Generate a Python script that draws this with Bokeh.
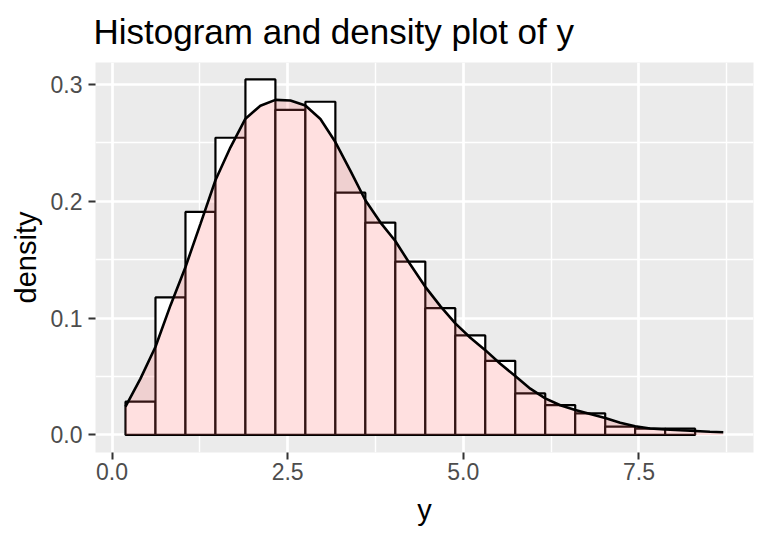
import numpy as np
from bokeh.plotting import figure
from bokeh.models import Range1d, FixedTicker, PrintfTickFormatter
from bokeh.embed import file_html
from bokeh.resources import INLINE

# ---- data ----
bin_start = 0.192
bin_width = 0.4267
hist_density = [0.0285, 0.1177, 0.1909, 0.2544, 0.3043, 0.2783, 0.2852, 0.2074,
                0.1818, 0.1484, 0.1085, 0.0852, 0.0635, 0.0356, 0.0256, 0.0185,
                0.0071, 0.0054, 0.0054]

dens_x = [0.192, 0.405, 0.619, 0.832, 1.046, 1.259, 1.472, 1.686, 1.899, 2.112,
          2.326, 2.539, 2.752, 2.966, 3.179, 3.392, 3.606, 3.819, 4.032, 4.246,
          4.459, 4.673, 4.886, 5.100, 5.313, 5.526, 5.739, 5.953, 6.166, 6.380,
          6.593, 6.806, 7.019, 7.233, 7.446, 7.659, 7.873, 8.086, 8.300, 8.510,
          8.700]
dens_y = [0.0242, 0.0482, 0.0755, 0.1109, 0.1438, 0.1807, 0.2180, 0.2462, 0.2707, 0.2818,
          0.2868, 0.2863, 0.2820, 0.2704, 0.2507, 0.2262, 0.2009, 0.1820, 0.1660, 0.1459,
          0.1268, 0.1103, 0.0955, 0.0832, 0.0726, 0.0610, 0.0504, 0.0396, 0.0313, 0.0254,
          0.0214, 0.0180, 0.0145, 0.0105, 0.0074, 0.0056, 0.0047, 0.0040, 0.0034, 0.0028,
          0.0023]

x_ticks = [0, 2.5, 5, 7.5]
x_minor = [1.25, 3.75, 6.25, 8.75]
y_ticks = [0, 0.1, 0.2, 0.3]
y_minor = [0.05, 0.15, 0.25]

title_text = "Histogram and density plot of y"
x_label = "y"
y_label = "density"

FONT = "Liberation Sans"

edges = bin_start + bin_width * np.arange(len(hist_density) + 1)

p = figure(width=760, height=532, output_backend="svg", toolbar_location=None,
           x_range=Range1d(-0.235, 9.13), y_range=Range1d(-0.0150, 0.3188),
           min_border_left=95, min_border_right=7, min_border_top=65, min_border_bottom=77,
           margin=(-3, 0, 0, 0))
p.outline_line_color = None
p.background_fill_color = "#EBEBEB"
p.border_fill_color = "white"

p.title.text = title_text
p.title.text_font = FONT
p.title.text_font_size = "35px"
p.title.text_font_style = "normal"
p.title.text_color = "black"
p.title.align = "left"
p.title.offset = -2
p.title.standoff = 24

p.xaxis.ticker = FixedTicker(ticks=x_ticks, minor_ticks=x_minor)
p.yaxis.ticker = FixedTicker(ticks=y_ticks, minor_ticks=y_minor)
p.xaxis.formatter = PrintfTickFormatter(format="%.1f")
p.yaxis.formatter = PrintfTickFormatter(format="%.1f")
p.xaxis.axis_label = x_label
p.yaxis.axis_label = y_label

for ax in (p.xaxis[0], p.yaxis[0]):
    ax.axis_line_color = None
    ax.major_tick_line_color = "#333333"
    ax.major_tick_line_width = 2
    ax.major_tick_out = 7
    ax.major_tick_in = 0
    ax.minor_tick_line_color = None
    ax.major_label_text_font = FONT
    ax.major_label_text_font_size = "23px"
    ax.major_label_text_color = "#4D4D4D"
    ax.axis_label_text_font = FONT
    ax.axis_label_text_font_size = "29px"
    ax.axis_label_text_font_style = "normal"
    ax.axis_label_text_color = "black"
p.xaxis.major_label_standoff = 3
p.yaxis.major_label_standoff = 6
p.xaxis.axis_label_standoff = 11
p.yaxis.axis_label_standoff = 6

for g in (p.xgrid[0], p.ygrid[0]):
    g.grid_line_color = "white"
    g.grid_line_width = 2.7
    g.minor_grid_line_color = "white"
    g.minor_grid_line_width = 1.4

p.quad(left=edges[:-1], right=edges[1:], bottom=0, top=hist_density,
       fill_color="white", line_color="black", line_width=2.2)
p.varea(x=dens_x, y1=0, y2=dens_y, fill_color="#FF6666", fill_alpha=0.2)
p.line(x=dens_x, y=dens_y, line_color="black", line_width=2.6)

open("out.html", "w").write(file_html(p, INLINE))
